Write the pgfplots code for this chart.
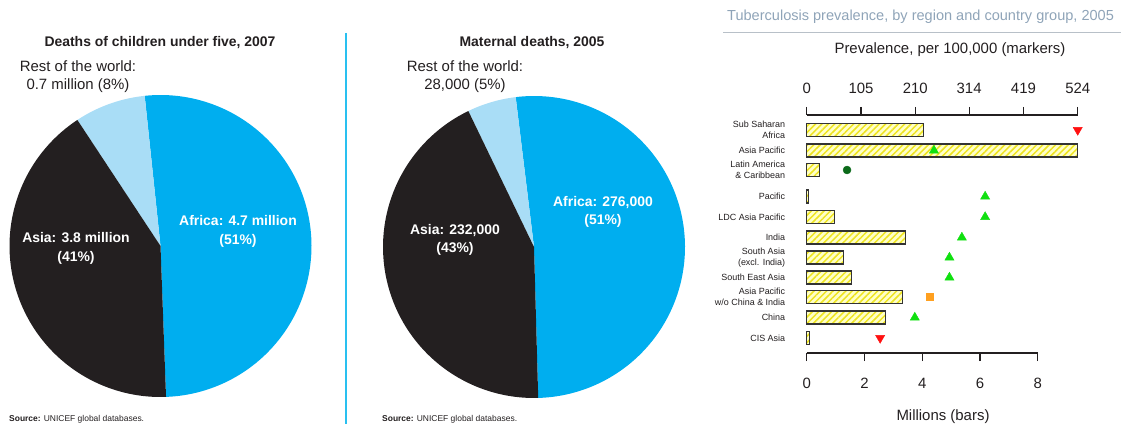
\documentclass[border=0pt]{standalone}
\usepackage{pgfplots}
\pgfplotsset{compat=1.18}
\usepackage{fontspec}
\setmainfont{Liberation Sans}
\usetikzlibrary{patterns.meta}

\definecolor{afblue}{HTML}{00AEEF}
\definecolor{restblue}{HTML}{A9DDF6}
\definecolor{asiablack}{HTML}{231F20}
\definecolor{sepblue}{HTML}{29C0F0}
\definecolor{titlegray}{HTML}{8FA4B8}
\definecolor{rulegray}{HTML}{B8C0C8}
\definecolor{paleyellow}{HTML}{FFFFC8}
\definecolor{hatchyellow}{HTML}{EEE41E}
\definecolor{barborder}{HTML}{333333}
\definecolor{mkred}{HTML}{FF1010}
\definecolor{mkgreen}{HTML}{10E010}
\definecolor{mkdkgreen}{HTML}{0B6A1A}
\definecolor{mkorange}{HTML}{FFA020}

\newcommand\fs[2]{\fontsize{#1}{#2}\selectfont}

% Pie data: deaths of children under five, 2007 (millions)
\def\Aaf{4.7}\def\Aas{3.8}\def\Are{0.7}
% Pie data: maternal deaths, 2005 (thousands)
\def\Baf{276}\def\Bas{232}\def\Bre{28}

\pgfmathsetmacro\Atot{\Aaf+\Aas+\Are}
\pgfmathsetmacro\Aend{-87.9}
\pgfmathsetmacro\Aone{\Aend+\Aaf/\Atot*360}
\pgfmathsetmacro\Atwo{\Aone+\Are/\Atot*360}
\pgfmathsetmacro\Athree{\Aend+360}

\pgfmathsetmacro\Btot{\Baf+\Bas+\Bre}
\pgfmathsetmacro\Bend{-88.4}
\pgfmathsetmacro\Bone{\Bend+\Baf/\Btot*360}
\pgfmathsetmacro\Btwo{\Bone+\Bre/\Btot*360}
\pgfmathsetmacro\Bthree{\Bend+360}

\pgfplotsset{
  pieaxis/.style={scale only axis, width=302bp, height=302bp,
    xmin=-1, xmax=1, ymin=-1, ymax=1, hide axis, clip=false},
  slice/.style={draw=none, fill=#1, samples=120, variable=\t},
}

\begin{document}
\begin{tikzpicture}[x=1bp,y=1bp]
\useasboundingbox (0,0) rectangle (1121,424);

% separators and header rule
\draw[sepblue, line width=1.3bp] (346,391) -- (346,0);
\draw[rulegray, line width=1bp] (723,391) -- (1121,391);

% ---------- Pie 1 ----------
\begin{axis}[pieaxis, at={(160.5bp,178bp)}, anchor=center]
  \addplot[slice=afblue, domain=\Aend:\Aone] ({cos(\t)},{sin(\t)}) -- (axis cs:0,0) -- cycle;
  \addplot[slice=restblue, domain=\Aone:\Atwo] ({cos(\t)},{sin(\t)}) -- (axis cs:0,0) -- cycle;
  \addplot[slice=asiablack, domain=\Atwo:\Athree] ({cos(\t)},{sin(\t)}) -- (axis cs:0,0) -- cycle;
\end{axis}

% ---------- Pie 2 ----------
\begin{axis}[pieaxis, at={(534bp,177bp)}, anchor=center]
  \addplot[slice=afblue, domain=\Bend:\Bone] ({cos(\t)},{sin(\t)}) -- (axis cs:0,0) -- cycle;
  \addplot[slice=restblue, domain=\Bone:\Btwo] ({cos(\t)},{sin(\t)}) -- (axis cs:0,0) -- cycle;
  \addplot[slice=asiablack, domain=\Btwo:\Bthree] ({cos(\t)},{sin(\t)}) -- (axis cs:0,0) -- cycle;
\end{axis}

% pie texts
\node[font=\bfseries\fs{14}{16}, text=asiablack] at (160,381) {Deaths of children under five, 2007};
\node[font=\bfseries\fs{14}{16}, text=asiablack] at (532,381) {Maternal deaths, 2005};
\node[font=\fs{15}{18}, align=center, text=asiablack] at (78,347) {Rest of the world:\\0.7 million (8\%)};
\node[font=\fs{15}{18}, align=center, text=asiablack] at (465,347) {Rest of the world:\\28,000 (5\%)};
\node[font=\bfseries\fs{14}{18.5}, align=center, text=white] at (238,192.6) {Africa: 4.7 million\\(51\%)};
\node[font=\bfseries\fs{14}{18.5}, align=center, text=white] at (76,175.7) {Asia: 3.8 million\\(41\%)};
\node[font=\bfseries\fs{14}{18.5}, align=center, text=white] at (603,212.3) {Africa: 276,000\\(51\%)};
\node[font=\bfseries\fs{14}{18.5}, align=center, text=white] at (455,184) {Asia: 232,000\\(43\%)};
\node[font=\fs{8.5}{10}, anchor=west, text=asiablack, inner sep=0] at (9,5) {\textbf{Source:} UNICEF global databases.};
\node[font=\fs{8.5}{10}, anchor=west, text=asiablack, inner sep=0] at (382,5) {\textbf{Source:} UNICEF global databases.};

% ---------- Tuberculosis chart ----------
\node[font=\fs{14.6}{16}, text=titlegray, anchor=west, inner sep=0] at (727,407) {Tuberculosis prevalence, by region and country group, 2005};
\node[font=\fs{15}{17}, text=asiablack] at (950,374) {Prevalence, per 100,000 (markers)};
\node[font=\fs{15}{17}, text=asiablack, anchor=base] at (943,4) {Millions (bars)};

% bars (millions), rows placed at negative pixel rows
\begin{axis}[
  at={(806.7bp,309bp)}, anchor=north west, scale only axis,
  width=231bp, height=238bp,
  xmin=0, xmax=8, ymin=-353, ymax=-115, clip=false,
  axis x line*=bottom, axis y line*=left,
  x axis line style={-, line width=1.2bp, draw=asiablack},
  y axis line style={draw=none},
  xtick={0,2,4,6,8},
  ytick={-338,-317.5,-297,-277.5,-257.5,-237.5,-217,-196.5,-170,-150.5,-130},
  yticklabels={{CIS Asia},{China},{Asia Pacific\\w/o China \& India},{South East Asia},{South Asia\\(excl. India)},{India},{LDC Asia Pacific},{Pacific},{Latin America\\\& Caribbean},{Asia Pacific},{Sub Saharan\\Africa}},
  ytick style={draw=none},
  xtick style={draw=asiablack, line width=1.2bp},
  major tick length=8bp, tick align=outside,
  /pgf/number format/assume math mode=true,
  xticklabel style={font=\fs{15}{17}, text=asiablack},
  yticklabel style={font=\fs{9}{11}, align=right, text=asiablack, xshift=-10bp},
  xticklabel shift=14bp,
]
  \addplot[xbar, bar width=13, draw=barborder, line width=1.1bp, fill=paleyellow,
    postaction={pattern={Lines[angle=45,distance=4.5bp,line width=1.5bp]}, pattern color=hatchyellow}]
  coordinates {
    (4.06,-130) (9.38,-150.5) (0.44,-170) (0.05,-196.5) (0.96,-217)
    (3.43,-237.5) (1.27,-257.5) (1.55,-277.5) (3.31,-297) (2.74,-317.5) (0.11,-338)
  };
\end{axis}

% markers (prevalence per 100,000)
\begin{axis}[
  at={(806.7bp,309bp)}, anchor=north west, scale only axis,
  width=271bp, height=238bp,
  xmin=0, xmax=524, ymin=-353, ymax=-115, clip=false,
  axis x line*=top, axis y line=none,
  x axis line style={-, line width=1.2bp, draw=asiablack},
  xtick={0,105,210,314,419,524},
  xtick style={draw=asiablack, line width=1.2bp},
  major tick length=8bp, tick align=outside,
  /pgf/number format/assume math mode=true,
  xticklabel style={font=\fs{15}{17}, text=asiablack},
  xticklabel shift=10bp,
]
  \addplot[only marks, mark=triangle*, mark size=5.3, mark options={rotate=180, fill=mkred, draw=mkred}]
    coordinates {(524,-130) (142,-338)};
  \addplot[only marks, mark=triangle*, mark size=5.3, mark options={fill=mkgreen, draw=mkgreen}]
    coordinates {(246,-150.5) (345,-196.5) (345,-217) (300,-237.5) (276,-257.5) (276,-277.5) (209,-317.5)};
  \addplot[only marks, mark=*, mark size=4, mark options={fill=mkdkgreen, draw=mkdkgreen}]
    coordinates {(78,-170)};
  \addplot[only marks, mark=square*, mark size=3.6, mark options={fill=mkorange, draw=mkorange}]
    coordinates {(237,-297)};
\end{axis}
\end{tikzpicture}
\end{document}
